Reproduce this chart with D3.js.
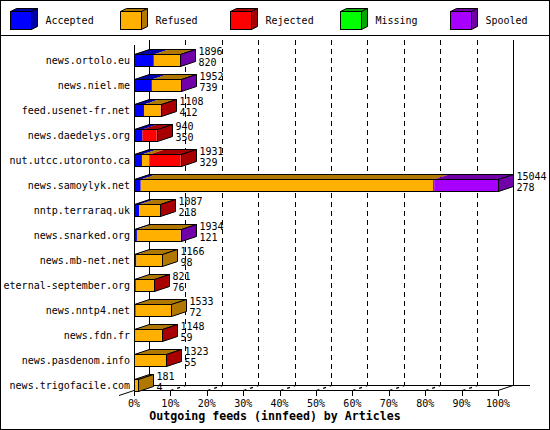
<!DOCTYPE html>
<html>
<head>
<meta charset="utf-8">
<script src="https://cdn.jsdelivr.net/npm/d3@7"></script>
<style>
  html, body { margin: 0; padding: 0; background: #fff; }
  svg { display: block; }
  text { font-family: "DejaVu Sans Mono", "Liberation Mono", monospace; }
</style>
</head>
<body>
<svg id="chart" width="550" height="430"></svg>
<script>
// ---- data ----
const feeds = ["news.ortolo.eu", "news.niel.me", "feed.usenet-fr.net", "news.daedelys.org",
  "nut.utcc.utoronto.ca", "news.samoylyk.net", "nntp.terraraq.uk", "news.snarked.org",
  "news.mb-net.net", "eternal-september.org", "news.nntp4.net", "news.fdn.fr",
  "news.pasdenom.info", "news.trigofacile.com"];
const seriesNames = ["Accepted", "Refused", "Rejected", "Missing", "Spooled"];
const accepted = [820, 739, 412, 350, 329, 278, 218, 121, 98, 76, 72, 59, 55, 4];
const refused  = [1072, 1208, 688, 0, 320, 12080, 863, 1809, 1068, 740, 1461, 1084, 1263, 177];
const rejected = [0, 0, 8, 590, 1282, 50, 6, 0, 0, 5, 0, 5, 5, 0];
const missing  = [0, 0, 0, 0, 0, 0, 0, 0, 0, 0, 0, 0, 0, 0];
const spooled  = [4, 5, 0, 0, 0, 2636, 0, 4, 0, 0, 0, 0, 0, 0];
const percentTicks = [0, 10, 20, 30, 40, 50, 60, 70, 80, 90, 100];
const title = "Outgoing feeds (innfeed) by Articles";

const frontColors = ["#0000ff", "#ffb000", "#ff0000", "#00ff00", "#a800ff"];
const darkColors  = ["#0000a8", "#b07800", "#a80000", "#00a800", "#7000a8"];

// ---- layout ----
const svg = d3.select("#chart");
const DX = 15, DY = 5;
const x0 = 134, x1 = 498, yTop = 41, yFloor = 390;
const series = [accepted, refused, rejected, missing, spooled];
const totals = feeds.map((f, i) => d3.sum(series, s => s[i]));
const maxTotal = d3.max(totals);

const x = d3.scaleLinear().domain([0, maxTotal]).range([x0, x1]);
const xp = d3.scaleLinear().domain([0, 100]).range([x0, x1]);
const y = d3.scaleBand().domain(feeds).range([yTop, yFloor + 1]).padding(0);
const barH = 12;

// border
svg.append("rect").attr("x", 0.5).attr("y", 0.5).attr("width", 549).attr("height", 429)
  .attr("fill", "#fff").attr("stroke", "#000");
svg.append("line").attr("x1", 0).attr("x2", 550).attr("y1", 35.5).attr("y2", 35.5)
  .attr("stroke", "#000");

// legend
const leg = svg.append("g");
seriesNames.forEach((n, i) => {
  const bx = 10 + 110 * i + 0.5, by = 11.5, bw = 21, bh = 18, d = 6, dd = 3;
  leg.append("polygon")
    .attr("points", [[bx, by], [bx + d, by - dd], [bx + bw + d, by - dd], [bx + bw, by]].join(" "))
    .attr("fill", darkColors[i]).attr("stroke", "#000");
  leg.append("polygon")
    .attr("points", [[bx + bw, by], [bx + bw + d, by - dd], [bx + bw + d, by + bh - dd], [bx + bw, by + bh]].join(" "))
    .attr("fill", darkColors[i]).attr("stroke", "#000");
  leg.append("rect").attr("x", bx).attr("y", by).attr("width", bw).attr("height", bh)
    .attr("fill", frontColors[i]).attr("stroke", "#000");
  leg.append("text").attr("x", bx + 35).attr("y", 24).attr("font-size", 10).text(n);
});

// back wall grid
const grid = svg.append("g").attr("stroke", "#000").attr("shape-rendering", "crispEdges");
percentTicks.slice(1, -1).forEach(p => {
  const gx = Math.round(xp(p) + DX) + 0.5;
  grid.append("line").attr("x1", gx).attr("x2", gx).attr("y1", yTop - 1).attr("y2", yFloor - DY)
    .attr("stroke-dasharray", "5,4");
});
// back wall verticals
[x0, x1].forEach(v => {
  grid.append("line").attr("x1", v + DX + 0.5).attr("x2", v + DX + 0.5)
    .attr("y1", yTop - 1).attr("y2", yFloor - DY + 0.5);
});
// floor
grid.append("line").attr("x1", x0 + DX).attr("x2", x1 + DX + 17)
  .attr("y1", yFloor - DY + 0.5).attr("y2", yFloor - DY + 0.5);
grid.append("line").attr("x1", x0).attr("x2", x1)
  .attr("y1", yFloor + 0.5).attr("y2", yFloor + 0.5);
svg.append("line").attr("x1", x0 - DX).attr("y1", yFloor + DY + 0.5)
  .attr("x2", x0 + DX).attr("y2", yFloor - DY + 0.5).attr("stroke", "#000");
svg.append("line").attr("x1", x1).attr("y1", yFloor + 0.5)
  .attr("x2", x1 + DX).attr("y2", yFloor - DY + 0.5).attr("stroke", "#000");
// front left axis
grid.append("line").attr("x1", x0 + 0.5).attr("x2", x0 + 0.5).attr("y1", yTop + 4).attr("y2", yFloor + 1);

// x ticks
const ticks = svg.append("g");
percentTicks.forEach(p => {
  const tx = Math.round(xp(p)) + 0.5;
  ticks.append("line").attr("x1", tx).attr("x2", tx).attr("y1", yFloor).attr("y2", yFloor + 6)
    .attr("stroke", "#000").attr("shape-rendering", "crispEdges");
  if (p > 0 && p < 100) {
    ticks.append("line").attr("x1", tx).attr("y1", yFloor + 0.5)
      .attr("x2", tx + DX).attr("y2", yFloor - DY + 0.5)
      .attr("stroke", "#000").attr("stroke-dasharray", "3,4").attr("stroke-width", 1.3);
  }
  ticks.append("text").attr("x", xp(p)).attr("y", 407).attr("text-anchor", "middle")
    .attr("font-size", 10).text(p + "%");
});

// bars
const bars = svg.append("g");
feeds.forEach((f, i) => {
  const yt = y(f) + 13.5, yb = yt + barH;
  const g = bars.append("g");
  let cum = 0, last = 0;
  series.forEach((s, k) => {
    const v = s[i];
    if (v <= 0) return;
    const a = x(cum), b = x(cum + v);
    g.append("rect").attr("x", a).attr("y", yt).attr("width", b - a).attr("height", barH)
      .attr("fill", frontColors[k]);
    g.append("polygon")
      .attr("points", [[a, yt], [a + DX, yt - DY], [b + DX, yt - DY], [b, yt]].join(" "))
      .attr("fill", darkColors[k]);
    cum += v; last = k;
  });
  const xs = Math.round(x(0)) + 0.5, xe = Math.round(x(cum)) + 0.5;
  g.append("rect").attr("x", xs).attr("y", yt).attr("width", xe - xs).attr("height", barH)
    .attr("fill", "none").attr("stroke", "#000");
  g.append("polygon")
    .attr("points", [[xs, yt], [xs + DX, yt - DY], [xe + DX, yt - DY], [xe, yt]].join(" "))
    .attr("fill", "none").attr("stroke", "#000");
  g.append("polygon")
    .attr("points", [[xe, yt], [xe + DX, yt - DY], [xe + DX, yb - DY], [xe, yb]].join(" "))
    .attr("fill", darkColors[last]).attr("stroke", "#000");
  // value labels
  g.append("text").attr("x", xe + DX + 3).attr("y", yt + 0.5).attr("font-size", 10).text(totals[i]);
  g.append("text").attr("x", xe + DX + 3).attr("y", yb - 0.5).attr("font-size", 10).text(accepted[i]);
  // category label
  svg.append("text").attr("x", 130).attr("y", yt + 9.5).attr("text-anchor", "end")
    .attr("font-size", 10).text(f);
});

// title
svg.append("text").attr("x", 275).attr("y", 420).attr("text-anchor", "middle")
  .attr("font-size", 11.6).attr("font-weight", "bold").text(title);
</script>
</body>
</html>
